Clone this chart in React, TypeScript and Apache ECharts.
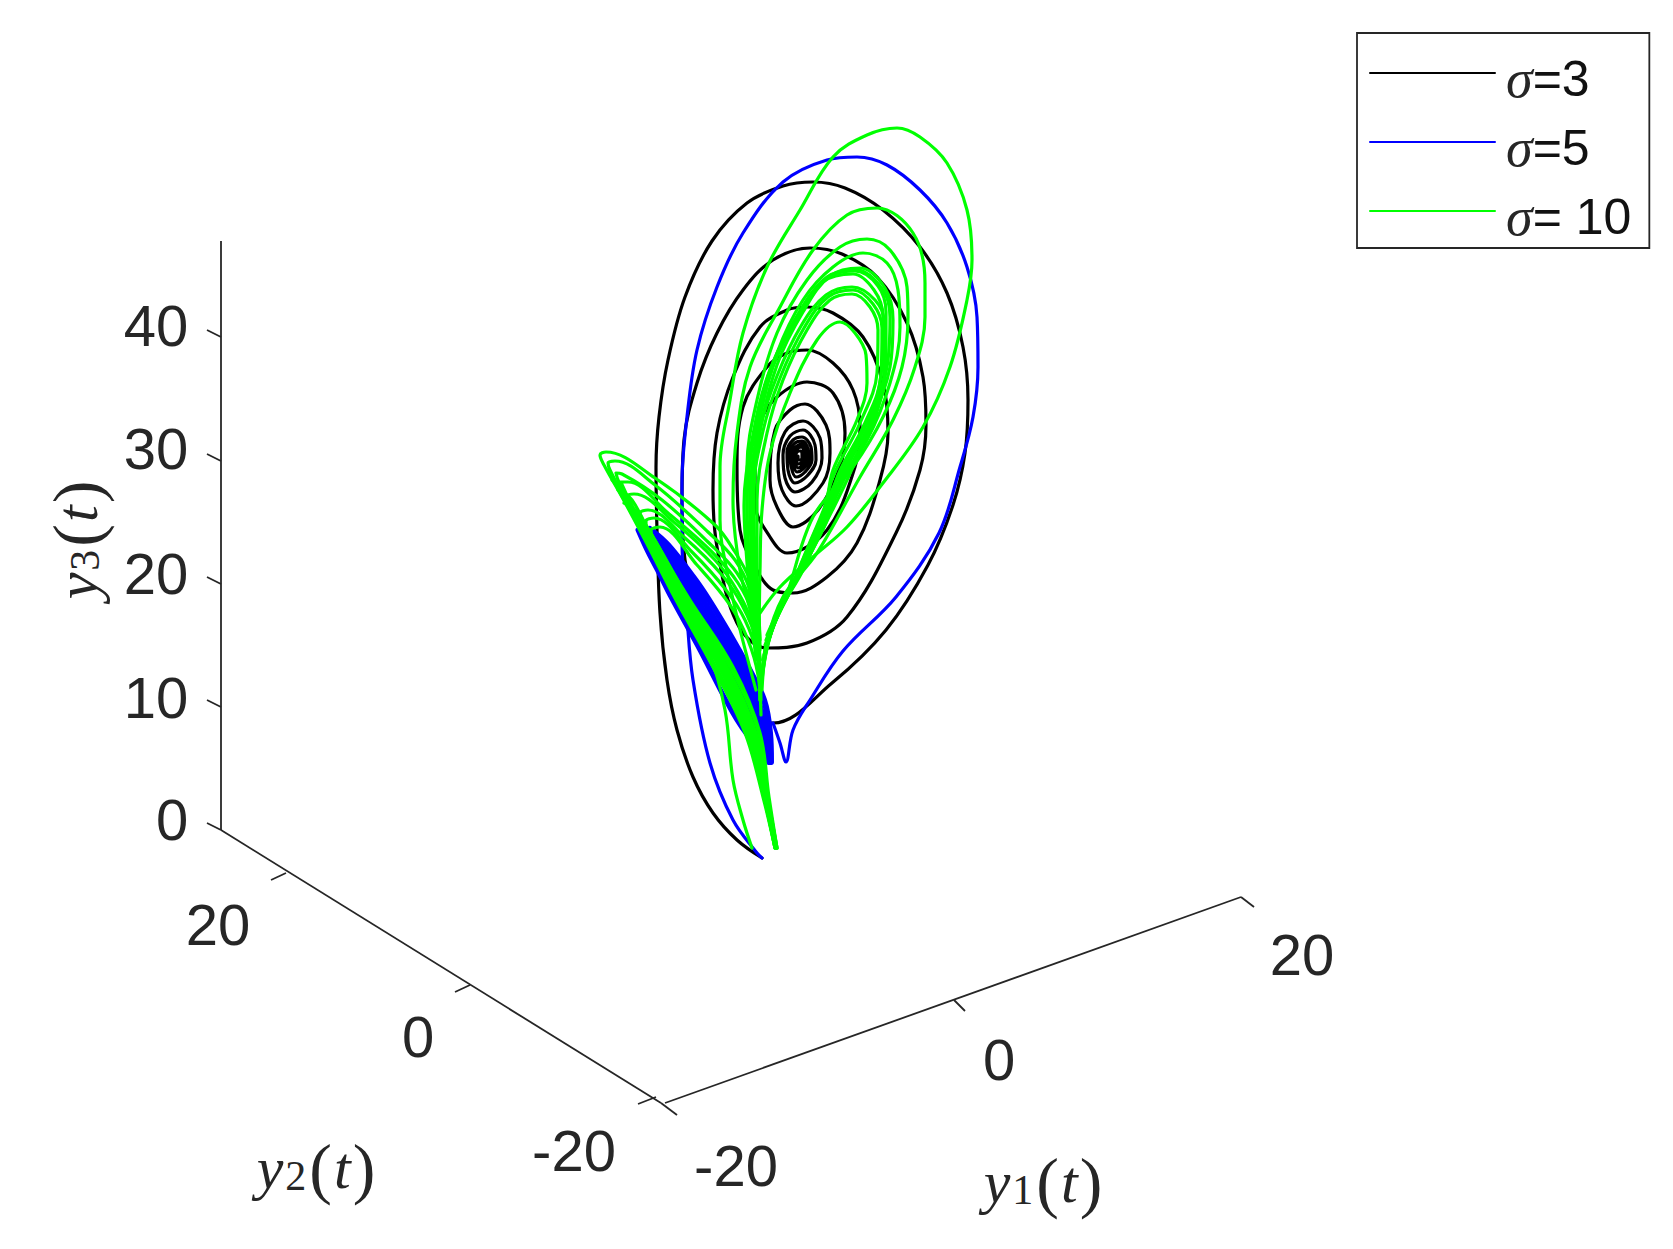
import React, { useEffect, useRef } from "react";
import * as echarts from "echarts";

type P = number[];

const seriesNames = ["σ=3", "σ=5", "σ= 10"];
const zTickLabels = ["0", "10", "20", "30", "40"];
const y2TickLabels = ["20", "0", "-20"];
const y1TickLabels = ["-20", "0", "20"];

const blackSpiral: P[] = [
  [762,858],[737,840],[713,813],[693,777],[677,730],[667,680],[660,613],[657,530],[656,467],[659,417],[668,360],[685,297],[712,241],[747,203],[783,186],[813,182],[845,188],[883,210],[920,247],[947,293],[963,347],[968,400],[965,453],[953,505],[928,565],[886,630],[832,683],[773,723],
  [745,712],[722,670],[700,620],[685,560],[682,500],[684,440],[697,383],[717,333],[743,290],[773,260],[810,248],[842,254],[877,277],[907,323],[923,377],[926,425],[920,470],[896,533],[847,617],[807,643],[767,648],
  [737,623],[717,547],[713,490],[717,433],[733,377],[760,327],[787,310],[807,307],[833,313],[863,337],[883,383],[888,433],[880,480],[857,543],[827,577],[793,593],[773,590],[753,563],[740,530],
  [737,467],[743,407],[767,367],[787,353],[807,350],[833,363],[853,390],[860,427],[855,467],[827,530],[787,553],[770,537],[755,503],
  [755,467],[760,423],[777,397],[807,382],[833,393],[845,433],[840,467],[818,510],[793,527],[777,507],
  [770,480],[775,430],[790,410],[805,404],[826,425],[830,453],[823,483],[796,506],[782,490],
  [778,463],[785,432],[803,421],[820,438],[822,458],[812,482],[795,492],[785,478],
  [783,455],[790,436],[803,430],[815,445],[816,460],[807,476],[795,483],[788,470],
  [787,452],[793,440],[802,437],[811,447],[812,460],[805,472],[796,477],[791,466],
  [790,452],[795,443],[802,441],[808,449],[809,460],[803,469],[797,472],[793,463],
  [792,452],[797,446],[802,444],[806,451],[806,460],[802,466],[798,468],[795,461],
  [794,453],[798,448],[802,447],[804,452],[804,459],[801,463],[798,464],[796,459],
  [796,454],[799,451],[801,451],[802,454],[802,458],[800,460],[798,460],[798,456],
];

const blueArc: P[] = [
  [762,858],[757,853],[733,820],[710,763],[693,680],[687,617],[682,540],[682,483],[687,417],[697,350],[717,287],[743,233],[783,182],[827,160],[857,157],[887,165],[920,190],[947,223],[967,267],[977,317],[978,367],[973,417],[960,467],[939,533],[896,597],[843,651],[810,700],[793,730],[786,762],[780,743],[773,723],
];
const bluePassA: P[] = [[771,762],[770,733],[764,700],[748,667],[729,633],[709,600],[694,578],[668,545],[650,529]];
const bluePassB: P[] = [[770,762],[766,733],[758,700],[743,667],[723,633],[703,600],[689,578],[663,545],[649,530]];
const bluePassC: P[] = [[769,762],[763,733],[753,700],[738,667],[717,633],[697,600],[683,578],[658,545],[648,530]];
const bluePassD: P[] = [[768,760],[760,733],[748,700],[732,667],[711,633],[691,600],[677,578],[653,545],[647,531]];
const bluePassE: P[] = [[766,755],[757,733],[744,700],[727,667],[707,633],[686,600],[673,578],[650,545],[646,532]];
const bluePassF: P[] = [[767,760],[737,720],[700,650],[670,595],[660,575],[648,552],[638,530]];

const greenStart: P[] = [[752,848],[743,820],[733,780],[725,710],[708,650],[685,610]];

const wing1: P[] = [[775,848],[763,797],[745,733],[713,667],[676,600],[646,542],[622,497],[604,465],[600,455],[606,452],[655,478],[715,525],[735,552],[750,580],[758,610],[760,650]];
const wing2: P[] = [[775,848],[764,797],[747,733],[716,667],[678,600],[647,542],[628,505],[610,470],[608,463],[615,461],[655,485],[708,532],[735,560],[750,590],[758,625]];
const wing3: P[] = [[776,848],[765,797],[749,733],[719,667],[680,600],[650,542],[632,510],[618,480],[616,473],[622,474],[662,500],[708,542],[737,573],[752,605],[759,645]];
const wing4: P[] = [[776,848],[766,797],[751,733],[722,667],[682,600],[651,542],[636,515],[624,489],[621,482],[628,482],[668,513],[712,552],[738,583],[753,615],[760,660]];
const wing5: P[] = [[776,848],[766,797],[754,733],[724,667],[684,600],[652,542],[640,522],[630,501],[628,495],[634,494],[675,523],[715,560],[738,592],[754,628],[760,670]];
const wing6: P[] = [[776,848],[767,797],[756,733],[727,667],[686,600],[654,542],[647,530],[641,518],[640,513],[648,510],[685,538],[722,575],[742,605],[756,640],[760,690]];
const wing7: P[] = [[777,848],[768,797],[758,730],[730,667],[688,600],[656,542],[650,532],[646,526],[646,521],[654,518],[692,552],[726,590],[745,620],[757,655],[760,700]];
const wing8: P[] = [[777,848],[769,797],[760,733],[733,667],[690,600],[657,546],[652,536],[651,530],[660,527],[697,565],[730,605],[748,640],[758,675],[761,715]];
const fillA: P[] = [[775,848],[764,797],[746,733],[715,667],[677,600],[648,542],[624,500],[608,470]];
const fillB: P[] = [[776,848],[766,797],[750,733],[720,667],[681,600],[651,542],[628,500],[612,480]];
const fillC: P[] = [[776,848],[767,797],[755,733],[726,667],[685,600],[654,542],[632,500],[618,490]];
const fillD: P[] = [[777,848],[768,797],[759,733],[731,667],[689,600],[656,542],[637,512],[624,503]];
const fillE: P[] = [[775,848],[764,797],[751,745],[736,700],[702,635],[665,570],[640,525]];
const fillF: P[] = [[776,848],[765,797],[752,733],[739,700],[708,640],[670,578],[645,530]];

const petal1: P[] = [[760,613],[780,587],[813,557],[847,527],[883,483],[923,427],[950,367],[967,300],[972,260],[967,210],[947,163],[920,137],[897,128],[867,135],[833,157],[800,210],[767,267],[743,333],[730,400],[720,467],[720,520],[722,545],[737,617],[756,690]];
const petal2: P[] = [[761,690],[766,645],[783,597],[817,553],[860,477],[893,420],[915,367],[925,317],[925,283],[913,233],[877,208],[847,215],[813,250],[780,307],[750,367],[737,433],[733,500],[740,570],[757,640],[760,700]];
const petal3: P[] = [[762,690],[768,640],[786,597],[813,517],[853,467],[883,417],[902,367],[908,317],[907,287],[890,250],[867,239],[840,247],[807,280],[777,333],[757,400],[747,467],[747,520],[752,590],[760,660]];
const petal4: P[] = [[762,680],[770,635],[790,590],[833,493],[867,440],[890,383],[900,327],[898,290],[887,263],[863,253],[833,267],[803,300],[777,353],[760,417],[753,483],[752,540],[756,600],[760,680]];
const petal5: P[] = [[763,670],[772,630],[792,585],[813,535],[840,473],[870,417],[887,367],[890,317],[883,290],[857,270],[827,277],[800,313],[773,367],[757,433],[750,500],[752,560],[758,620],[761,700]];
const petal6: P[] = [[763,665],[774,625],[795,582],[818,530],[844,473],[873,417],[890,367],[893,320],[885,288],[860,268],[830,276],[803,312],[777,365],[760,432],[754,500],[755,560],[759,640]];
const petal7: P[] = [[763,660],[776,620],[797,578],[822,527],[848,471],[876,415],[886,360],[886,312],[878,286],[855,271],[825,279],[797,316],[770,370],[754,436],[747,503],[750,570],[757,650]];
const petal8: P[] = [[764,655],[778,615],[800,574],[826,523],[852,469],[871,420],[882,364],[883,316],[874,290],[853,274],[823,282],[795,320],[768,375],[752,440],[744,505],[748,575],[756,660]];
const petal9: P[] = [[765,650],[780,610],[803,570],[820,525],[833,477],[860,423],[877,373],[878,330],[870,307],[852,294],[830,300],[807,330],[783,380],[767,433],[757,500],[757,560],[760,640]];
const petal10: P[] = [[765,645],[782,605],[805,565],[824,522],[838,475],[864,425],[881,375],[882,328],[873,304],[853,290],[828,297],[804,328],[780,378],[763,431],[753,498],[754,560],[759,650]];
const petal11: P[] = [[766,640],[784,600],[807,560],[828,518],[842,473],[867,423],[884,372],[884,322],[875,300],[852,287],[826,295],[801,326],[777,376],[760,429],[750,496],[752,560],[758,655]];
const petal12: P[] = [[767,635],[786,595],[810,555],[826,505],[833,470],[857,420],[867,383],[866,355],[855,333],[840,322],[817,340],[790,393],[770,453],[762,510],[760,570],[759,640]];

const SMOOTH = 0.36;
const LINE = 3.2;
const allSeries = (): any[] => {
  const make = (name: string, color: string, data: P[], width: number) => ({
    type: "line",
    name,
    data,
    smooth: SMOOTH,
    symbol: "none",
    silent: true,
    lineStyle: { color, width, cap: "round", join: "round" },
    itemStyle: { color },
  });
  return [
    make(seriesNames[0], "#000000", blackSpiral, LINE),
    make(seriesNames[1], "#0000ff", blueArc, LINE),
    ...[bluePassA, bluePassB, bluePassC, bluePassD, bluePassE].map((d) =>
      make(seriesNames[1], "#0000ff", d, 6)
    ),
    make(seriesNames[1], "#0000ff", bluePassF, 5),
    make(seriesNames[2], "#00ff00", greenStart, LINE),
    ...[
      wing1, wing2, wing3, wing4, wing5, wing6, wing7, wing8, fillA, fillB, fillC, fillD, fillE, fillF,
      petal1, petal2, petal3, petal4, petal5, petal6, petal7, petal8, petal9, petal10, petal11, petal12,
    ].map((d) => make(seriesNames[2], "#00ff00", d, LINE)),
  ];
};

const INK = "#262626";
const axisLine = (x1: number, y1: number, x2: number, y2: number, width = 1.8) => ({
  type: "line",
  shape: { x1, y1, x2, y2 },
  style: { stroke: INK, lineWidth: width },
  silent: true,
});
const tickText = (text: string, x: number, y: number) => ({
  type: "text",
  x,
  y,
  silent: true,
  style: {
    text,
    fill: INK,
    fontFamily: "Liberation Sans",
    fontSize: 58,
    textAlign: "center",
    textVerticalAlign: "middle",
  },
});
const mathRich = {
  i: { fontFamily: "Liberation Serif", fontStyle: "italic", fontSize: 60, fill: INK, color: INK, padding: [0, 2, 0, 2] },
  u: { fontFamily: "Liberation Serif", fontSize: 42, fill: INK, color: INK, padding: [16, 3, 0, 0] },
  p: { fontFamily: "Liberation Serif", fontSize: 68, fontWeight: 300, fill: INK, color: INK },
};
const mathText = (sub: string, x: number, y: number, rotation = 0) => ({
  type: "text",
  x,
  y,
  rotation,
  silent: true,
  style: {
    text: `{i|y}{u|${sub}}{p|(}{i|t}{p|)}`,
    rich: mathRich,
    textAlign: "center",
    textVerticalAlign: "middle",
  },
});

const zTickY = [830, 707, 584, 461, 337];
const zLabelPos = [[172, 819], [156, 697], [156, 573], [156, 448], [156, 325]];
const y2Ticks = [[286, 873, 271, 880], [470, 985, 455, 992], [656, 1097, 638, 1104]];
const y2LabelPos = [[218, 924], [418, 1036], [574, 1150]];
const y1Ticks = [[661, 1103, 677, 1115], [954, 1000, 965, 1011], [1241, 897, 1254, 907]];
const y1LabelPos = [[736, 1165], [999, 1059], [1302, 954]];

export default function App() {
  const ref = useRef<HTMLDivElement>(null);
  useEffect(() => {
    const chart = echarts.init(ref.current!, undefined, { renderer: "svg" });
    chart.setOption({
      animation: false,
      backgroundColor: "#ffffff",
      grid: { left: 0, right: 0, top: 0, bottom: 0 },
      xAxis: { type: "value", min: 0, max: 1673, show: false },
      yAxis: { type: "value", min: 0, max: 1249, inverse: true, show: false },
      legend: {
        data: seriesNames,
        orient: "vertical",
        left: 1357,
        top: 33,
        padding: [19, 18, 4, 12],
        itemWidth: 125,
        itemHeight: 46,
        itemGap: 15,
        selectedMode: false,
        backgroundColor: "#ffffff",
        borderColor: INK,
        borderWidth: 1.8,
        borderRadius: 0,
        itemStyle: { opacity: 0 },
        formatter: (n: string) => `{s|σ}{n|${n.slice(1)}}`,
        textStyle: {
          rich: {
            s: { fontFamily: "Liberation Serif", fontStyle: "italic", fontSize: 54, color: INK, padding: [12, 0, 0, 6] },
            n: { fontFamily: "Liberation Sans", fontSize: 50, color: "#111111", padding: [12, 0, 0, 0] },
          },
        },
      },
      graphic: {
        elements: [
          axisLine(221, 241, 221, 830),
          axisLine(221, 830, 661, 1103),
          axisLine(665, 1103, 1241, 897),
          ...zTickY.map((y) => axisLine(221, y, 207, y - 7)),
          ...y2Ticks.map((t) => axisLine(t[0], t[1], t[2], t[3])),
          ...y1Ticks.map((t) => axisLine(t[0], t[1], t[2], t[3])),
          ...zTickLabels.map((t, i) => tickText(t, zLabelPos[i][0], zLabelPos[i][1])),
          ...y2TickLabels.map((t, i) => tickText(t, y2LabelPos[i][0], y2LabelPos[i][1])),
          ...y1TickLabels.map((t, i) => tickText(t, y1LabelPos[i][0], y1LabelPos[i][1])),
          mathText("3", 77, 541, Math.PI / 2),
          mathText("2", 315, 1168),
          mathText("1", 1042, 1182),
        ],
      },
      series: allSeries(),
    });
    return () => chart.dispose();
  }, []);
  return (
    <div
      ref={ref}
      style={{ position: "absolute", left: 0, top: 0, width: 1673, height: 1249, background: "#fff" }}
    />
  );
}
